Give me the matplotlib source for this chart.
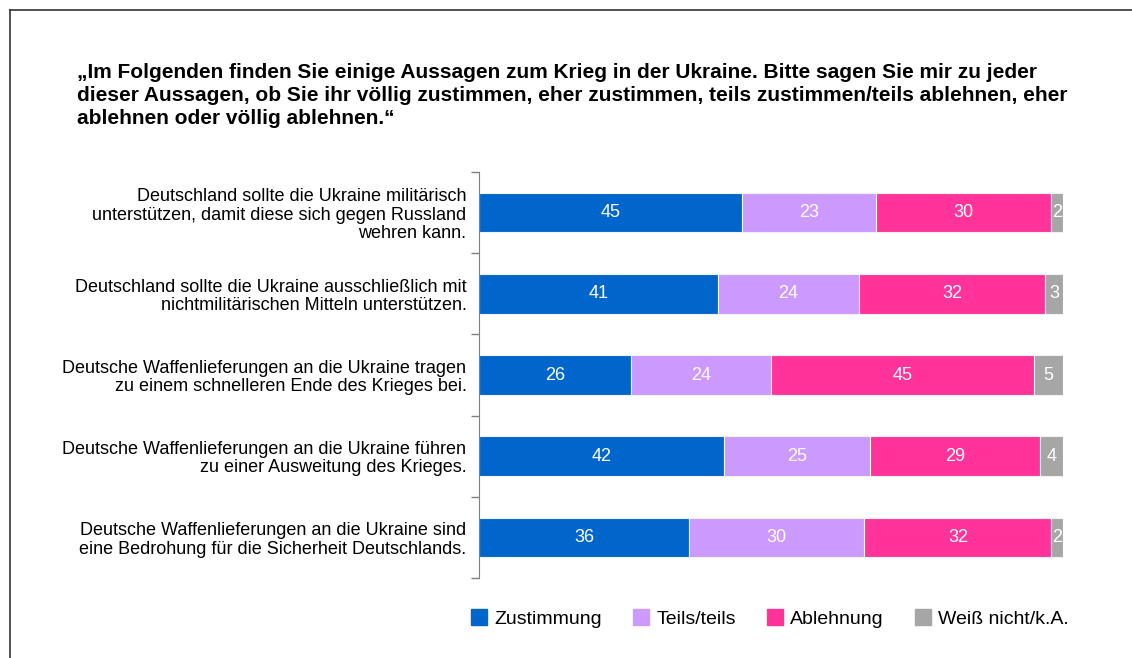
import matplotlib
matplotlib.use("Agg")
import matplotlib.pyplot as plt
from matplotlib.lines import Line2D
import numpy as np

plt.rcParams["font.family"] = ["Liberation Sans", "DejaVu Sans"]

categories = [
    "Deutschland sollte die Ukraine militärisch\nunterstützen, damit diese sich gegen Russland\nwehren kann.",
    "Deutschland sollte die Ukraine ausschließlich mit\nnichtmilitärischen Mitteln unterstützen.",
    "Deutsche Waffenlieferungen an die Ukraine tragen\nzu einem schnelleren Ende des Krieges bei.",
    "Deutsche Waffenlieferungen an die Ukraine führen\nzu einer Ausweitung des Krieges.",
    "Deutsche Waffenlieferungen an die Ukraine sind\neine Bedrohung für die Sicherheit Deutschlands.",
]
series_names = ["Zustimmung", "Teils/teils", "Ablehnung", "Weiß nicht/k.A."]
zustimmung = [45, 41, 26, 42, 36]
teils = [23, 24, 24, 25, 30]
ablehnung = [30, 32, 45, 29, 32]
weiss_nicht = [2, 3, 5, 4, 2]
colors = ["#0066CC", "#CC99FF", "#FF3399", "#A6A6A6"]

title = ("„Im Folgenden finden Sie einige Aussagen zum Krieg in der Ukraine. Bitte sagen Sie mir zu jeder\n"
         "dieser Aussagen, ob Sie ihr völlig zustimmen, eher zustimmen, teils zustimmen/teils ablehnen, eher\n"
         "ablehnen oder völlig ablehnen.“")

W, H = 1132, 658
fig = plt.figure(figsize=(W / 100, H / 100), dpi=100)
ax = fig.add_axes([479 / W, 1 - 578 / H, (1063 - 479) / W, (578 - 172) / H])

y = np.arange(len(categories))
left = np.zeros(len(categories))
for name, vals, col in zip(series_names, [zustimmung, teils, ablehnung, weiss_nicht], colors):
    bars = ax.barh(y, vals, left=left, height=0.49, color=col, edgecolor="#F2F2F2",
                   linewidth=0.8, label=name)
    for b, v in zip(bars, vals):
        ax.text(b.get_x() + b.get_width() / 2, b.get_y() + b.get_height() / 2, str(v),
                ha="center", va="center", color="white", fontsize=13)
    left += np.array(vals)

ax.set_xlim(0, 100)
ax.set_ylim(len(categories) - 0.5, -0.5)
ax.set_xticks([])
ax.set_yticks(y)
ax.set_yticklabels(categories, fontsize=13, linespacing=1.1)
ax.tick_params(axis="y", which="major", length=0, pad=9)
ax.set_yticks(np.arange(-0.5, len(categories)), minor=True)
ax.tick_params(axis="y", which="minor", length=6, color="#808080", width=1)
for s in ["top", "right", "bottom"]:
    ax.spines[s].set_visible(False)
ax.spines["left"].set_color("#808080")

fig.text(77 / W, 1 - 63 / H, title, ha="left", va="top", fontsize=15,
         fontweight="bold", linespacing=1.25)

handles = [Line2D([], [], marker="s", linestyle="none", markersize=11, color=c) for c in colors]
fig.legend(handles, series_names, loc="center", bbox_to_anchor=(769 / W, 1 - 619 / H),
           ncol=4, frameon=False, fontsize=14, handletextpad=0.3, columnspacing=1.5,
           handlelength=1.0)

# outer frame (left and top only)
fig.add_artist(Line2D([9.5 / W, 9.5 / W], [0, 1 - 10 / H], color="#333333", lw=1.2))
fig.add_artist(Line2D([9.5 / W, 1], [1 - 10 / H, 1 - 10 / H], color="#333333", lw=1.2))

fig.savefig("out.png", dpi=100)
